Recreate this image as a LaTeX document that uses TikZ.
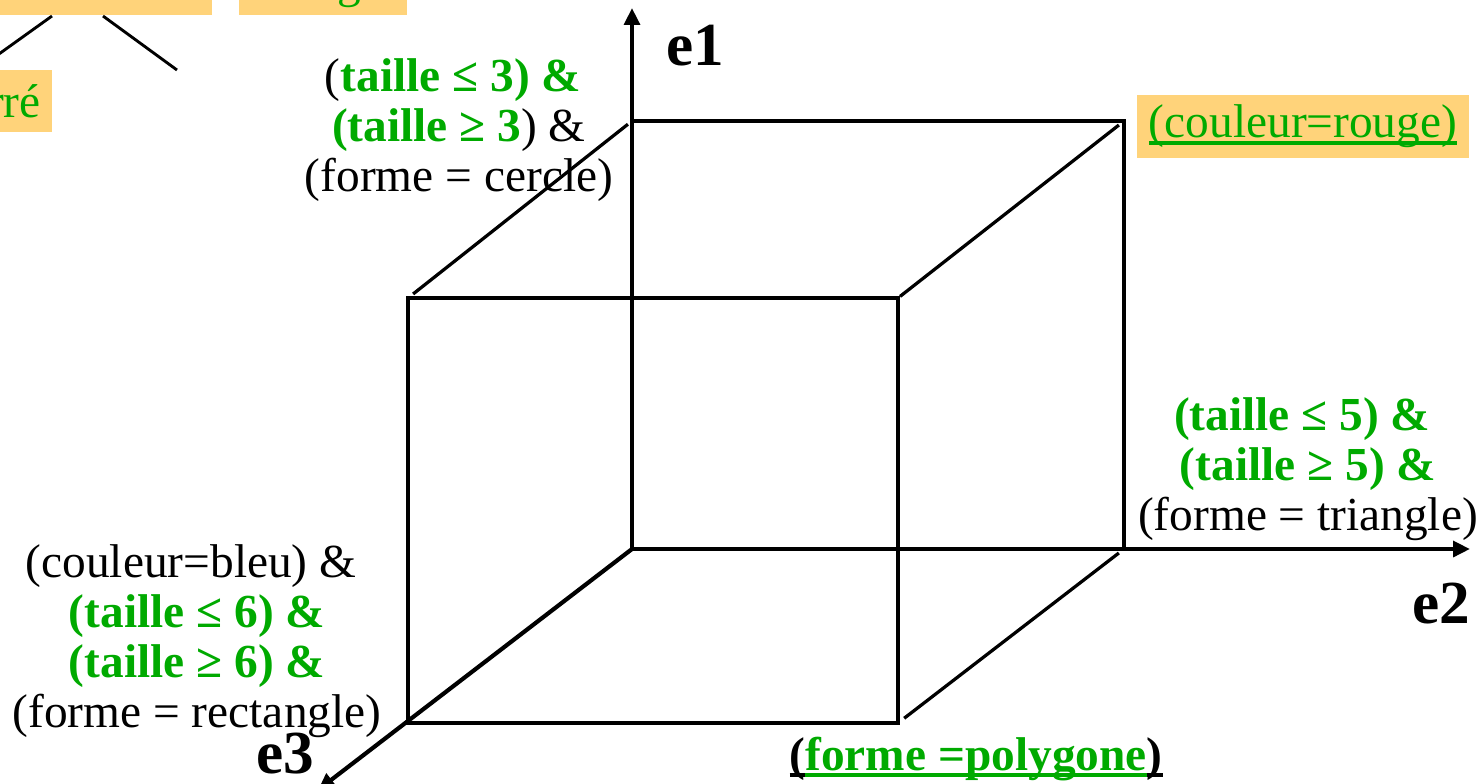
\documentclass[tikz,border=0pt]{standalone}
\usepackage{fontspec}
\setmainfont{Liberation Serif}
\usetikzlibrary{arrows.meta,positioning,calc}
\definecolor{vert}{RGB}{0,170,0}
\definecolor{orangebox}{RGB}{255,211,122}
\newcommand{\souligne}[1]{\setbox0\hbox{#1}\rlap{\rule[-0.15em]{\wd0}{0.08em}}\box0}
\newcommand{\vb}[1]{\textcolor{vert}{\bfseries #1}}
\newcommand{\fin}{\hspace*{.25em}}

\begin{document}
\begin{tikzpicture}[x=0.0135cm,y=-0.0135cm,
  txt/.style={font=\fontsize{18.2}{19.2}\selectfont,align=center,inner sep=0pt},
  boite/.style={fill=orangebox,text=vert,font=\fontsize{18.2}{19.2}\selectfont,
    inner xsep=4.5pt,inner ysep=0pt,minimum height=24.1pt},
  coupe/.style={boite,text height=17.1pt,text depth=7pt},
  lettre/.style={font=\fontsize{23.5}{24}\selectfont\bfseries,inner sep=0pt},
  axe/.style={line width=1.6pt,-{Triangle[length=6.5pt,width=6pt]}},
  arete/.style={line width=1.25pt}]
  \useasboundingbox (0,0) rectangle (1483,783);
  \clip (0,0) rectangle (1483,783);

  % morceau d'arbre (coupe)
  \node[coupe,anchor=south east] (quadri) at (213,16) {quadrilatère};
  \node[coupe,anchor=south west] (tri) at (238,16) {triangle};
  \node[boite,anchor=north east] (carre) at (53,69) {carré};
  \coordinate (versCarre) at (-22,69);
  \coordinate (versDroite) at (177,70);
  \draw[line width=1.1pt] ($(quadri.south east)+(-161,0)$) -- (versCarre);
  \draw[line width=1.1pt] ($(quadri.south east)+(-110,0)$) -- (versDroite);

  % cube
  \coordinate (O) at (632,549);
  \coordinate (B1) at (632,121);
  \coordinate (B2) at (1124,121);
  \coordinate (B3) at (1124,549);
  \coordinate (F1) at (408,298);
  \coordinate (F2) at (898,298);
  \coordinate (F3) at (898,723);
  \draw[arete] (B1) -- (B2) -- (B3);
  \draw[arete] (F1) rectangle (F3);
  \draw[arete,shorten <=2.5pt,shorten >=2pt] (F1) -- (B1);
  \draw[arete,shorten <=1pt,shorten >=2.5pt] (F2) -- (B2);
  \draw[arete,shorten <=3pt,shorten >=2.5pt] (F3) -- (B3);

  % axes
  \coordinate (e1) at (632,8);
  \coordinate (e2) at (1470,549);
  \coordinate (e3) at (318,790);
  \draw[axe] (O) -- (e1);
  \draw[axe] (O) -- (e2);
  \draw[axe] (O) -- (e3);
  \node[lettre,anchor=base] (l1) at (695,65) {e1};
  \node[lettre,anchor=base] (l2) at (1441,623) {e2};
  \node[lettre,anchor=base] (l3) at (285,773) {e3};

  % conditions
  \node[txt] (cercle) at (459,130)
    {(\vb{taille ≤ 3) \&}\fin\\ \vb{(taille ≥ 3}) \&\fin\\ (forme = cercle)};
  \node[boite] (rouge) at (1303,126.5) {\souligne{(couleur=rouge)}};
  \node[txt] (triang) at (1308,469)
    {\vb{(taille ≤ 5) \&}\fin\\ \vb{(taille ≥ 5) \&}\fin\\ (forme = triangle)};
  \node[txt] (rect) at (197,641)
    {(couleur=bleu) \&\fin\\ \vb{(taille ≤ 6) \&}\fin\\ \vb{(taille ≥ 6) \&}\fin\\ (forme = rectangle)};
  \node[txt,font=\fontsize{18.2}{19.2}\selectfont\bfseries,anchor=base] (poly) at (976,770)
    {\souligne{(}\textcolor{vert}{\souligne{forme =polygone}}\souligne{)}};
\end{tikzpicture}
\end{document}
